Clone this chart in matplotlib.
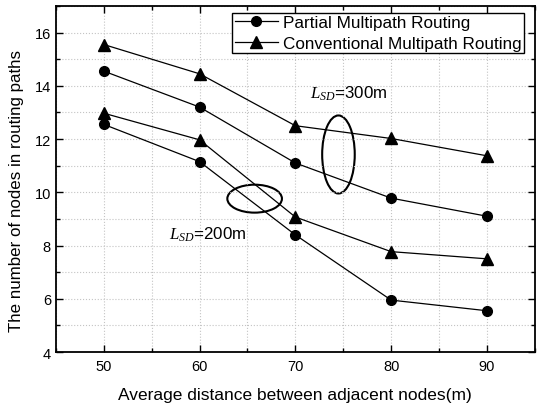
import matplotlib
matplotlib.use("Agg")
import matplotlib.pyplot as plt
from matplotlib.patches import Ellipse
from matplotlib.ticker import MultipleLocator

plt.rcParams['font.family'] = ['Liberation Sans', 'DejaVu Sans']
plt.rcParams['mathtext.fontset'] = 'custom'
plt.rcParams['mathtext.rm'] = 'Liberation Sans'
plt.rcParams['mathtext.it'] = 'Liberation Serif:italic'

distance = [50, 60, 70, 80, 90]
partial_300 = [14.55, 13.2, 11.1, 9.78, 9.1]
conventional_300 = [15.55, 14.45, 12.5, 12.02, 11.37]
conventional_200 = [12.97, 11.97, 9.07, 7.77, 7.5]
partial_200 = [12.55, 11.15, 8.4, 5.95, 5.55]

fig = plt.figure(figsize=(5.37, 4.06), dpi=100)
ax = fig.add_axes([0.104, 0.1305, 0.892, 0.8525])

lw = 0.9
ax.plot(distance, partial_300, '-o', color='black', lw=lw, ms=7, label='Partial Multipath Routing')
ax.plot(distance, conventional_300, '-^', color='black', lw=lw, ms=8, label='Conventional Multipath Routing')
ax.plot(distance, conventional_200, '-^', color='black', lw=lw, ms=8)
ax.plot(distance, partial_200, '-o', color='black', lw=lw, ms=7)

ax.add_patch(Ellipse((74.5, 11.42), 3.4, 2.93, fill=False, ec='black', lw=1.5))
ax.add_patch(Ellipse((65.75, 9.76), 5.7, 1.05, fill=False, ec='black', lw=1.5))

ax.text(71.55, 13.55, '$L_{SD}$=300m', fontsize=12.2)
ax.text(56.84, 8.27, '$L_{SD}$=200m', fontsize=12.2)

ax.set_xlim(45, 95)
ax.set_ylim(4, 17)
ax.xaxis.set_major_locator(MultipleLocator(10))
ax.xaxis.set_minor_locator(MultipleLocator(5))
ax.yaxis.set_major_locator(MultipleLocator(2))
ax.yaxis.set_minor_locator(MultipleLocator(1))
ax.tick_params(which='both', direction='in', top=True, right=True, labelsize=10.5, width=1)
ax.tick_params(axis='x', pad=5)
ax.tick_params(which='major', length=5)
ax.tick_params(which='minor', length=3)
ax.grid(True, which='both', color='#c4c4c4', linestyle=':', lw=0.8)
for s in ax.spines.values():
    s.set_linewidth(1.3)

ax.set_xlabel('Average distance between adjacent nodes(m)', fontsize=12.5, labelpad=10)
ax.set_ylabel('The number of nodes in routing paths', fontsize=12.2)
ax.yaxis.set_label_coords(-0.067, 0.467)

leg = ax.legend(loc='upper right', bbox_to_anchor=(0.977, 0.980), fontsize=12.3,
                frameon=True, fancybox=False, edgecolor='black', framealpha=1,
                borderpad=0.15, labelspacing=0.3, handlelength=2.5,
                handletextpad=0.3, borderaxespad=0)
leg.get_frame().set_linewidth(1.0)

fig.savefig('out.png', dpi=100)
